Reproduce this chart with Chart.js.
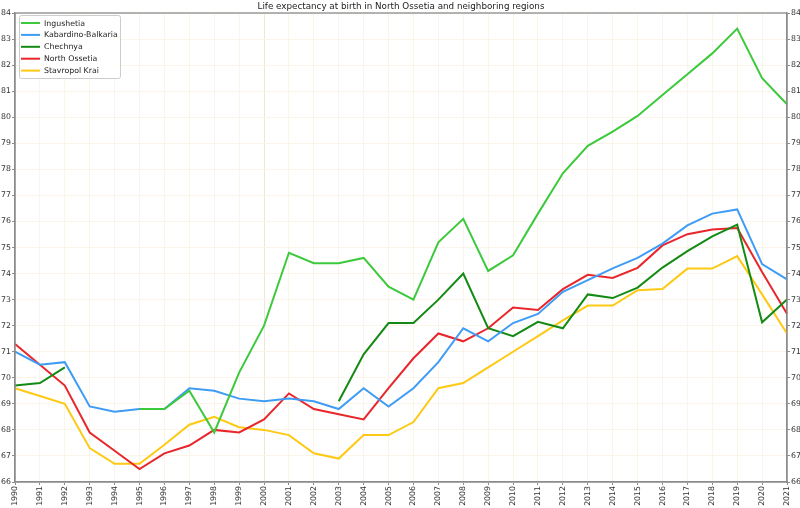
<!DOCTYPE html>
<html>
<head>
<meta charset="utf-8">
<script src="https://cdn.jsdelivr.net/npm/chart.js@4/dist/chart.umd.min.js"></script>
<style>
  html, body { margin: 0; padding: 0; background: #fff; }
  #wrap { width: 800px; height: 508px; position: relative; }
</style>
</head>
<body>
<div id="wrap"><canvas id="c" width="800" height="508"></canvas></div>
<script>
const years = [1990,1991,1992,1993,1994,1995,1996,1997,1998,1999,2000,2001,2002,2003,2004,2005,2006,2007,2008,2009,2010,2011,2012,2013,2014,2015,2016,2017,2018,2019,2020,2021];

const ingushetia = [null,null,null,null,null,68.8,68.8,69.5,67.9,70.2,72.0,74.8,74.4,74.4,74.6,73.5,73.0,75.2,76.1,74.1,74.7,76.3,77.85,78.9,79.45,80.05,80.85,81.65,82.45,83.4,81.5,80.5];
const kabardinoBalkaria = [71.0,70.5,70.6,68.9,68.7,68.8,68.8,69.6,69.5,69.2,69.1,69.2,69.1,68.8,69.6,68.9,69.6,70.6,71.9,71.4,72.1,72.45,73.3,73.75,74.2,74.6,75.15,75.85,76.3,76.46,74.36,73.78];
const chechnya = [69.7,69.8,70.4,null,null,null,null,null,null,null,null,null,null,69.1,70.9,72.1,72.1,73.0,74.0,71.9,71.6,72.15,71.9,73.2,73.06,73.46,74.23,74.86,75.43,75.88,72.13,73.0];
const northOssetia = [71.3,70.5,69.7,67.9,67.2,66.5,67.1,67.4,68.0,67.9,68.4,69.4,68.8,68.6,68.4,69.6,70.75,71.7,71.4,71.9,72.7,72.6,73.4,73.95,73.83,74.22,75.08,75.51,75.69,75.75,74.06,72.46];
const stavropolKrai = [69.6,69.3,69.0,67.3,66.7,66.7,67.43,68.2,68.5,68.1,68.0,67.8,67.1,66.9,67.8,67.8,68.3,69.6,69.8,70.4,71.0,71.6,72.2,72.77,72.77,73.36,73.41,74.19,74.19,74.67,73.2,71.7];

const seriesNames = ["Ingushetia","Kabardino-Balkaria","Chechnya","North Ossetia","Stavropol Krai"];
const seriesColors = ["#3cc93c","#3f9cf5","#138a13","#e8262b","#fdc913"];
const seriesValues = [ingushetia, kabardinoBalkaria, chechnya, northOssetia, stavropolKrai];
const titleText = "Life expectancy at birth in North Ossetia and neighboring regions";

const FONT = "'DejaVu Sans', sans-serif";

const framePlugin = {
  id: 'frame',
  afterDatasetsDraw(chart) {
    const ctx = chart.ctx, a = chart.chartArea;
    ctx.save();
    ctx.strokeStyle = '#8c8c8c';
    ctx.lineWidth = 1.3;
    ctx.strokeRect(a.left, a.top, a.right - a.left, a.bottom - a.top);
    ctx.restore();
  },
  afterDraw(chart) {
    const ctx = chart.ctx, a = chart.chartArea;
    ctx.save();
    // title
    ctx.fillStyle = '#222';
    ctx.font = "8.75px " + FONT;
    ctx.textAlign = 'center';
    ctx.textBaseline = 'bottom';
    ctx.fillText(titleText, (a.left + a.right) / 2, a.top - 2);
    // legend
    const bx = a.left + 4, by = a.top + 2, bw = 101, bh = 63;
    ctx.fillStyle = 'rgba(255,255,255,0.85)';
    ctx.strokeStyle = '#cccccc';
    ctx.lineWidth = 1;
    ctx.beginPath();
    if (ctx.roundRect) ctx.roundRect(bx + 0.5, by + 0.5, bw, bh, 2); else ctx.rect(bx + 0.5, by + 0.5, bw, bh);
    ctx.fill(); ctx.stroke();
    ctx.font = "7.8px " + FONT;
    ctx.textAlign = 'left';
    ctx.textBaseline = 'middle';
    chart.data.datasets.forEach((ds, i) => {
      const y = by + 8 + i * 11.9;
      ctx.strokeStyle = ds.borderColor;
      ctx.lineWidth = 2;
      ctx.beginPath();
      ctx.moveTo(bx + 2, y);
      ctx.lineTo(bx + 21, y);
      ctx.stroke();
      ctx.fillStyle = '#222';
      ctx.fillText(ds.label, bx + 25, y + 0.5);
    });
    ctx.restore();
  }
};

new Chart(document.getElementById('c'), {
  type: 'line',
  data: {
    labels: years.map(String),
    datasets: seriesNames.map((n, i) => ({
      label: n,
      data: seriesValues[i],
      borderColor: seriesColors[i],
      backgroundColor: seriesColors[i],
      borderWidth: 2,
      pointRadius: 0,
      tension: 0,
      spanGaps: false,
      yAxisID: 'y'
    }))
  },
  options: {
    responsive: false,
    animation: false,
    devicePixelRatio: 1,
    layout: { padding: { top: 13, left: 0, right: 0, bottom: 0 } },
    plugins: { legend: { display: false }, title: { display: false }, tooltip: { enabled: false } },
    scales: {
      x: {
        type: 'category',
        offset: false,
        grid: {
          color: (c) => (c.tick && c.tick.label === '2000') ? '#efe6d8' : '#fbf4e8',
          tickColor: '#8c8c8c',
          tickLength: 3,
          lineWidth: 1
        },
        border: { color: '#8c8c8c', width: 1.3 },
        ticks: {
          autoSkip: false,
          maxRotation: 90,
          minRotation: 90,
          padding: 1,
          color: '#333',
          font: { family: FONT, size: 7.8 }
        },
        afterFit(s) { s.height = 26; }
      },
      y: {
        position: 'left',
        min: 66, max: 84,
        grid: { color: '#fbf4e8', tickColor: '#8c8c8c', tickLength: 3 },
        border: { color: '#8c8c8c', width: 1.3 },
        ticks: { stepSize: 1, padding: 1, color: '#333', font: { family: FONT, size: 7.8 } },
        afterFit(s) { s.width = 15; }
      },
      y2: {
        position: 'right',
        min: 66, max: 84,
        grid: { display: true, drawOnChartArea: false, tickColor: '#8c8c8c', tickLength: 3 },
        border: { color: '#8c8c8c', width: 1.3 },
        ticks: { stepSize: 1, padding: 1, color: '#333', font: { family: FONT, size: 7.8 } },
        afterFit(s) { s.width = 13; }
      }
    }
  },
  plugins: [framePlugin]
});
</script>
</body>
</html>
